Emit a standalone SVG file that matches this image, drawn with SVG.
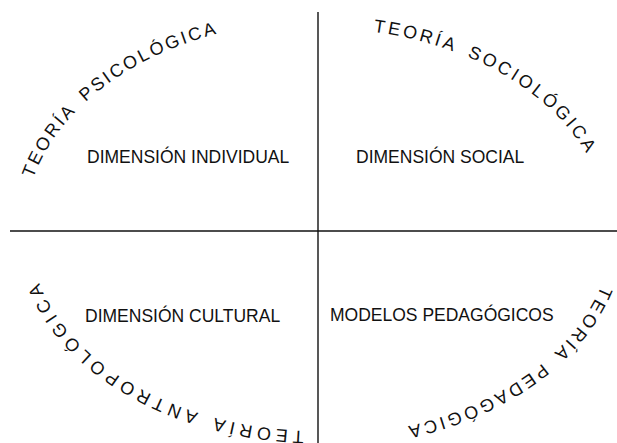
<svg xmlns="http://www.w3.org/2000/svg" xmlns:xlink="http://www.w3.org/1999/xlink" width="617" height="443" viewBox="0 0 617 443">
<style>
.ax{stroke:#111;stroke-width:1.4;fill:none}
.lbl{font-family:"Liberation Sans",Arial,sans-serif;font-size:17.5px;fill:#111}
.arc{font-family:"Liberation Sans",Arial,sans-serif;font-size:18px;fill:#111;word-spacing:5px}
</style>
<defs>
<path id="pTL" d="M33.1,178.4 A294,209 0 0 1 277.1,23.0"/>
<path id="pTR" d="M373.3,31.7 A290,202 0 0 1 603.6,194.9"/>
<path id="pBR" d="M601.2,285.4 A294,206 0 0 1 343.6,435.2"/>
<path id="pBL" d="M303.9,430.8 A289,201 0 0 1 29.7,244.0"/>
</defs>
<rect width="617" height="443" fill="#fff"/>
<g id="axes">
<line class="ax" x1="318" y1="12" x2="318" y2="443"/>
<line class="ax" x1="10" y1="231" x2="617" y2="231"/>
</g>
<g id="individual">
<text class="arc" style="letter-spacing:2.5px"><textPath xlink:href="#pTL" href="#pTL">TEORÍA PSICOLÓGICA</textPath></text>
<text class="lbl" x="87" y="163">DIMENSIÓN INDIVIDUAL</text>
</g>
<g id="social">
<text class="arc" style="letter-spacing:3px"><textPath xlink:href="#pTR" href="#pTR">TEORÍA SOCIOLÓGICA</textPath></text>
<text class="lbl" x="356" y="163">DIMENSIÓN SOCIAL</text>
</g>
<g id="pedagogico">
<text class="arc" style="letter-spacing:3.2px"><textPath xlink:href="#pBR" href="#pBR">TEORÍA PEDAGÓGICA</textPath></text>
<text class="lbl" x="330" y="321">MODELOS PEDAGÓGICOS</text>
</g>
<g id="cultural">
<text class="arc" style="letter-spacing:4.6px"><textPath xlink:href="#pBL" href="#pBL">TEORÍA ANTROPOLÓGICA</textPath></text>
<text class="lbl" x="85" y="322">DIMENSIÓN CULTURAL</text>
</g>
</svg>
